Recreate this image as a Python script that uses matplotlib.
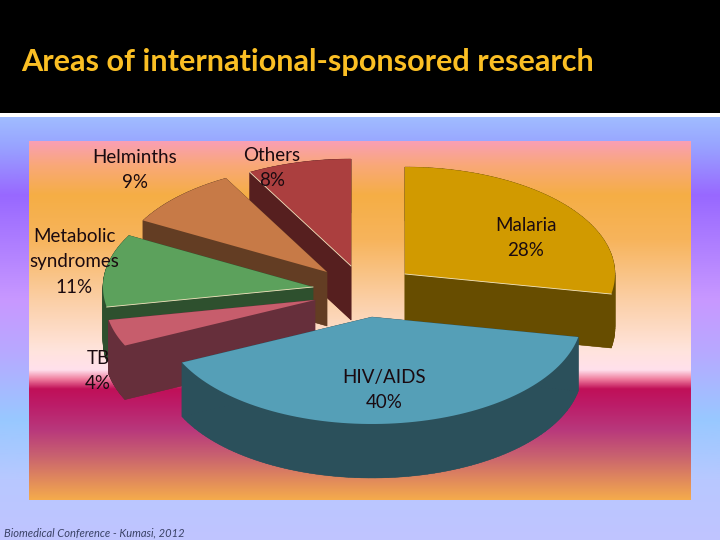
import numpy as np
import matplotlib
matplotlib.use("Agg")
import matplotlib.pyplot as plt
from matplotlib.colors import LinearSegmentedColormap

# chart data, clockwise from 12 o'clock
categories = ["Malaria", "HIV/AIDS", "TB", "Metabolic\nsyndromes", "Helminths", "Others"]
shares = [28, 40, 4, 11, 9, 8]

title = "Areas of international-sponsored research"
footer = "Biomedical Conference - Kumasi, 2012"

# slice styles / layout
top_colors = ["#d19a00", "#559fb7", "#c75d6c", "#5ca15c", "#c77a47", "#ab3f3f"]
side_colors = ["#674d00", "#2b505b", "#662f3b", "#2e502e", "#633d23", "#561f1f"]
apex_x = [405, 372, 315, 313, 327, 351]  # dragged slices, so each has its own apex
apex_y = [274, 317, 300, 287, 272, 266]
label_x = [526, 384, 98, 74, 135, 272]
label_y = [238, 390, 371, 262, 170, 168]
draw_order = [5, 4, 3, 2, 0, 1]
rx, ry, depth = 210, 107, 54

W, H = 720, 540
fig = plt.figure(figsize=(7.2, 5.4), dpi=100)
ax = fig.add_axes([0, 0, 1, 1])
ax.set_xlim(0, W)
ax.set_ylim(H, 0)
ax.axis("off")


def gradient(x0, x1, y0, y1, stops, z):
    # vertical gradient, stops are (pixel y, colour)
    pos = [(y - y0) / (y1 - y0) for y, c in stops]
    cmap = LinearSegmentedColormap.from_list("g", list(zip(pos, [c for y, c in stops])), N=512)
    col = np.linspace(0, 1, 512).reshape(-1, 1)
    ax.imshow(col, cmap=cmap, extent=[x0, x1, y1, y0], aspect="auto", zorder=z, vmin=0, vmax=1)


# slide background
gradient(0, W, 117, H, [(117, "#a0bcff"), (145, "#98a4ff"), (195, "#9868ff"),
                        (300, "#c898ff"), (350, "#b8a8ff"), (420, "#98c8ff"),
                        (480, "#b8c8ff"), (540, "#c0c4ff")], 0)
# plot area
gradient(29, 691, 141, 500, [(141, "#fa9fb4"), (165, "#f9a878"), (195, "#f5ae45"),
                             (240, "#f7b45c"), (300, "#fbcfa6"), (350, "#ffe4dc"),
                             (370, "#ffe0ec"), (379, "#f080a0"), (389, "#c01058"),
                             (405, "#bc1c68"), (430, "#b8387c"), (455, "#c86070"),
                             (500, "#f5ab4c")], 1)
ax.set_xlim(0, W)
ax.set_ylim(H, 0)

ax.fill_between([0, W], 0, 113, color="black", lw=0, zorder=2)
ax.fill_between([0, W], 113, 117, color="white", lw=0, zorder=2)

# angles follow from the shares
edges = np.cumsum([0] + shares) / sum(shares) * 2 * np.pi

for n, i in enumerate(draw_order):
    a = np.linspace(edges[i], edges[i + 1], 80)
    x = apex_x[i] + rx * np.sin(a)
    y = apex_y[i] - ry * np.cos(a)
    px = np.r_[apex_x[i], x]
    py = np.r_[apex_y[i], y]
    z = 3 + n

    # extruded sides: every outline segment swept downwards
    ax.fill(px, py + depth, color=side_colors[i], lw=0, zorder=z)
    for k in range(len(px)):
        k2 = (k + 1) % len(px)
        ax.fill([px[k], px[k2], px[k2], px[k]],
                [py[k], py[k2], py[k2] + depth, py[k] + depth],
                color=side_colors[i], lw=0.3, zorder=z)
    ax.fill(px, py, color=top_colors[i], lw=0, zorder=z)

# pale highlight lines on the front edges
for i, a_edge in [(0, edges[1]), (5, edges[5]), (3, edges[3])]:
    ax.plot([apex_x[i], apex_x[i] + rx * np.sin(a_edge)],
            [apex_y[i], apex_y[i] - ry * np.cos(a_edge)],
            color="#f5e6c0", lw=0.6, zorder=9)

for i in range(len(categories)):
    ax.text(label_x[i], label_y[i], "%s\n%d%%" % (categories[i], shares[i]),
            ha="center", va="center", fontsize=13.5, family="Lato",
            color="#1a0a10", linespacing=1.6, zorder=10)

ax.text(21, 62, title, color="#fbbf24", fontsize=22.05, family="Lato",
        fontweight="bold", va="center", ha="left", zorder=10)
ax.text(4, 533, footer, color="#3a4266", fontsize=8, family="Lato", style="italic",
        va="center", ha="left", zorder=10)

fig.savefig("out.png", dpi=100)
